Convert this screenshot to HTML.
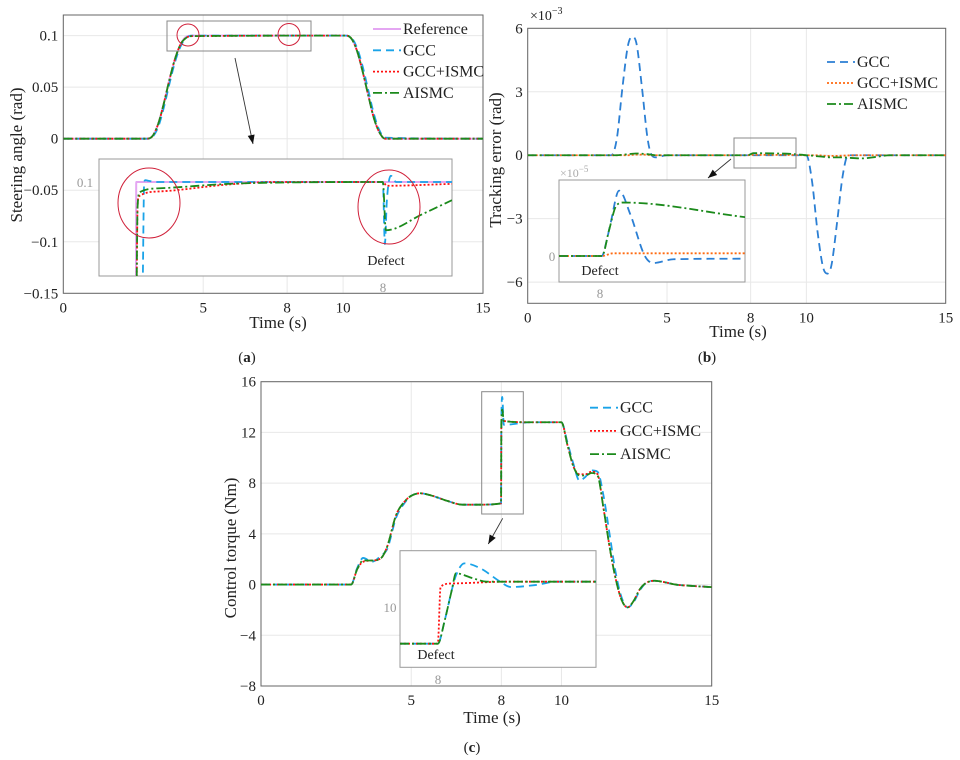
<!DOCTYPE html>
<html><head><meta charset="utf-8"><style>
html,body{margin:0;padding:0;background:#fff;}
svg{display:block;font-family:"Liberation Serif",serif;}
</style></head><body>
<svg id="fig" width="960" height="760" viewBox="0 0 960 760" xmlns="http://www.w3.org/2000/svg"></svg>
<script>
// ===== Panel (a) data: steering angle (rad) =====
const aT = [0,3.0,3.2,3.4,3.6,3.8,4.0,4.2,4.4,4.6,10.0,10.1,10.3,10.5,10.7,10.9,11.1,11.3,11.5,15];
const aRef = [0,0,0.003,0.015,0.035,0.058,0.078,0.092,0.099,0.1,0.1,0.1,0.097,0.085,0.065,0.042,0.02,0.006,0,0];
const aGCC = [0,0,0.002,0.012,0.031,0.054,0.075,0.090,0.098,0.1,0.1,0.1,0.098,0.088,0.070,0.047,0.024,0.008,0.001,0];
const aISMC = [0,0,0.003,0.015,0.035,0.058,0.078,0.092,0.098,0.0995,0.1,0.1,0.097,0.085,0.065,0.042,0.02,0.006,0,0];
const aAISMC = [0,0,0.003,0.015,0.035,0.058,0.078,0.092,0.098,0.0995,0.1,0.1,0.097,0.085,0.065,0.042,0.02,0.006,0,0];
const aYTicks = [0.1,0.05,0,-0.05,-0.1,-0.15];
const aYLabels = ["0.1","0.05","0","\u22120.05","\u22120.1","\u22120.15"];
const xTicks = [0,5,8,10,15];
const xLabels = ["0","5","8","10","15"];
// inset (a)
const aiRefT = [3.73,4.285,4.29,9.04];
const aiRefV = [0.08,0.08,0.1,0.1];
const aiGccT = [3.73,4.38,4.41,4.43,4.47,4.6,7.99,8.0,8.03,8.06,8.12,8.2,9.04];
const aiGccV = [0.08,0.08,0.1,0.1003,0.1002,0.1,0.1,0.1,0.0901,0.097,0.101,0.1,0.1];
const aiIsmcT = [3.73,4.29,4.31,4.33,4.65,5.67,6.4,7.99,8.0,8.06,9.04];
const aiIsmcV = [0.08,0.08,0.096,0.0977,0.0985,0.0996,0.1,0.1,0.1,0.0994,0.0997];
const aiAisT = [3.73,4.29,4.31,4.345,4.65,5.67,6.4,7.99,8.0,8.045,8.6,9.04];
const aiAisV = [0.08,0.08,0.096,0.0984,0.0990,0.0997,0.0999,0.1,0.1,0.0923,0.0949,0.0971];
// ===== Panel (b) data: tracking error (x1e-3 rad) =====
const bT = [0,3.0,3.2,3.4,3.6,3.75,3.9,4.1,4.3,4.45,4.6,5.0,7.9,8.1,8.5,9.5,10.0,10.2,10.4,10.6,10.75,10.9,11.1,11.3,11.5,12.0,12.5,13.0,15];
const bGCC = [0,0,0.8,3.2,5.2,5.6,5.3,3.2,0.8,0,-0.1,0,0,0,0,0,0,-1.2,-3.6,-5.3,-5.6,-5.2,-3.2,-1.0,0,0,0,0,0];
const bISMC = [0,0,0,0,0,0.02,0.03,0.03,0.02,0,0,0,0,0.02,0.02,0.01,0,0,0,-0.02,-0.03,-0.03,-0.03,-0.02,-0.01,0,0,0,0];
const bAISMC = [0,0,0,0.02,0.05,0.07,0.08,0.07,0.05,0.02,0,0,0,0.1,0.09,0.06,0,-0.02,-0.05,-0.07,-0.09,-0.1,-0.1,-0.1,-0.12,-0.15,-0.08,0,0];
const bYTicks = [6,3,0,-3,-6];
const bYLabels = ["6","3","0","\u22123","\u22126"];
// inset (b) in x1e-5
const biT = [7.7,8.0,8.03,8.06,8.12,8.2,8.3,8.36,8.5,9.0];
const biGCC = [0,0,0.25,0.6,1.21,0.76,0,-0.13,-0.06,-0.05];
const biIsmcT = [7.7,8.0,8.08,9.0];
const biIsmc = [0,0,0.05,0.05];
const biAisT = [7.7,8.0,8.05,8.1,8.15,9.0];
const biAis = [0,0,0.48,0.93,0.99,0.72];
// ===== Panel (c) data: control torque (Nm) =====
const cT = [0,3.0,3.2,3.4,3.7,4.0,4.2,4.5,4.8,5.0,5.3,5.7,6.2,6.7,7.2,7.99,8.0,8.03,8.08,9.0,10.0,10.2,10.4,10.6,10.8,11.0,11.2,11.4,11.6,11.8,12.0,12.2,12.4,12.6,12.8,13.1,13.4,13.8,14.3,15];
const cAISMC = [0,0,1.2,1.9,1.9,2.1,3.0,5.5,6.6,7.0,7.2,7.0,6.6,6.3,6.3,6.4,12.9,13.8,12.9,12.8,12.8,11.0,9.3,8.6,8.6,8.8,8.6,6.0,3.0,0.5,-1.2,-1.8,-1.3,-0.4,0.1,0.3,0.2,0,-0.1,-0.2];
const cGCC = [0,0,1.3,2.1,1.8,2.3,2.8,5.3,6.5,7.0,7.2,7.0,6.6,6.3,6.3,6.4,12.9,14.8,12.6,12.8,12.8,11.2,9.5,8.2,8.5,9.0,8.9,7.0,4.0,1.0,-1.0,-1.8,-1.4,-0.5,0.1,0.3,0.2,0,-0.1,-0.2];
const cISMC = [0,0,1.2,1.8,1.9,2.1,3.0,5.5,6.6,7.0,7.2,7.0,6.6,6.3,6.3,6.4,12.9,13.0,12.9,12.8,12.8,11.0,9.3,8.7,8.7,8.9,8.7,6.0,3.0,0.5,-1.2,-1.8,-1.3,-0.4,0.1,0.3,0.2,0,-0.1,-0.2];
const cYTicks = [16,12,8,4,0,-4,-8];
const cYLabels = ["16","12","8","4","0","\u22124","\u22128"];
// inset (c)
const ciT = [7.73,8.0,8.05,8.1,8.13,8.19,8.3,8.45,8.52,8.7,8.85,9.13];
const ciGCC = [6.21,6.21,8.7,11.86,13.4,14.67,14.18,12.7,12.18,12.39,12.74,12.74];
const ciAisT = [7.73,8.0,8.05,8.1,8.13,8.25,8.35,9.13];
const ciAis = [6.21,6.21,8.7,11.86,13.62,13.1,12.74,12.74];
const ciIsmcT = [7.73,8.0,8.02,8.1,8.5,9.13];
const ciIsmc = [6.21,6.21,12.2,12.55,12.74,12.74];

const NS="http://www.w3.org/2000/svg";
const svg=document.getElementById('fig');
function el(tag,attrs,parent){const e=document.createElementNS(NS,tag);for(const k in attrs)e.setAttribute(k,attrs[k]);(parent||svg).appendChild(e);return e;}
function scale(d0,d1,r0,r1){return v=>r0+(v-d0)*(r1-r0)/(d1-d0);}
function monoPath(px,py){
  const n=px.length;if(n<2)return '';
  const d=[],m=[];
  for(let i=0;i<n-1;i++){const dx=px[i+1]-px[i];d.push(dx===0?0:(py[i+1]-py[i])/dx);}
  m[0]=d[0];m[n-1]=d[n-2];
  for(let i=1;i<n-1;i++){m[i]=(d[i-1]*d[i]<=0)?0:(d[i-1]+d[i])/2;}
  for(let i=0;i<n-1;i++){if(d[i]===0){m[i]=0;m[i+1]=0;continue;}const a=m[i]/d[i],b=m[i+1]/d[i],s=a*a+b*b;if(s>9){const t=3/Math.sqrt(s);m[i]=t*a*d[i];m[i+1]=t*b*d[i];}}
  let p='M'+px[0].toFixed(2)+','+py[0].toFixed(2);
  for(let i=0;i<n-1;i++){const h=(px[i+1]-px[i])/3;
    p+=' C'+(px[i]+h).toFixed(2)+','+(py[i]+m[i]*h).toFixed(2)+' '+(px[i+1]-h).toFixed(2)+','+(py[i+1]-m[i+1]*h).toFixed(2)+' '+px[i+1].toFixed(2)+','+py[i+1].toFixed(2);}
  return p;
}
function series(g,xs,ys,sx,sy,style,name){
  const p=el('path',{d:monoPath(xs.map(sx),ys.map(sy)),fill:'none',stroke:style.c,'stroke-width':style.w||1.8,'stroke-dasharray':style.dash||'none'},g);
  
  
  return p;
}
function text(x,y,s,attrs,parent,name){const t=el('text',Object.assign({x:x,y:y,'font-size':15,fill:'#222'},attrs||{}),parent);t.textContent=s;
  
  
  return t;}
let clipId=0;
function clip(x,y,w,h){const id='cp'+(clipId++);const c=el('clipPath',{id:id});el('rect',{x:x,y:y,width:w,height:h},c);return 'url(#'+id+')';}
const S={ref:{c:'#e4a6f2',w:2},gcc:{c:'#1aa3e8',dash:'8,5'},ismc:{c:'#ff1010',dash:'2,2'},ais:{c:'#1b8a1b',dash:'9,3,2,3'}};
const Sb={gcc:{c:'#2b7fd4',dash:'8,5'},ismc:{c:'#ff6a10',dash:'2,2'},ais:{c:'#1b8a1b',dash:'9,3,2,3'}};

function axes(box,xd,yd,yt,yl,name){
  const g=el('g',{});
  
  
  const sx=scale(xd[0],xd[1],box.x0,box.x1),sy=scale(yd[0],yd[1],box.y1,box.y0);
  xTicks.forEach((t,i)=>{const x=sx(t);el('line',{x1:x,x2:x,y1:box.y0,y2:box.y1,stroke:'#e8e8e8','stroke-width':1},g);
    text(x,box.y1+19,xLabels[i],{'text-anchor':'middle'},g,'x-tick-label');});
  yt.forEach((t,i)=>{const y=sy(t);el('line',{x1:box.x0,x2:box.x1,y1:y,y2:y,stroke:'#e8e8e8','stroke-width':1},g);
    text(box.x0-5,y+5,yl[i],{'text-anchor':'end'},g,'y-tick-label');});
  el('rect',{x:box.x0,y:box.y0,width:box.x1-box.x0,height:box.y1-box.y0,fill:'none',stroke:'#666','stroke-width':1},g);
  return {g,sx,sy,cp:clip(box.x0,box.y0,box.x1-box.x0,box.y1-box.y0)};
}
function legend(x,y0,dy,items,parent){
  items.forEach((it,i)=>{const y=y0+i*dy;
    const l=el('line',{x1:x,x2:x+28,y1:y,y2:y,stroke:it.s.c,'stroke-width':it.s.w||1.8,'stroke-dasharray':it.s.dash||'none'},parent);
    
    
    text(x+30,y+5,it.n,{'font-size':16},parent,'legend-entry');});
}
function arrow(x1,y1,x2,y2,parent){
  el('line',{x1:x1,y1:y1,x2:x2,y2:y2,stroke:'#333','stroke-width':0.9},parent);
  const a=Math.atan2(y2-y1,x2-x1),L=9,W=3.5;
  const p1=[x2-L*Math.cos(a)+W*Math.sin(a),y2-L*Math.sin(a)-W*Math.cos(a)],p2=[x2-L*Math.cos(a)-W*Math.sin(a),y2-L*Math.sin(a)+W*Math.cos(a)];
  const h=el('polygon',{points:x2+','+y2+' '+p1.join(',')+' '+p2.join(','),fill:'#111'},parent);
  
  
}

// ================= Panel A =================
const A=axes({x0:63.3,x1:483,y0:15,y1:293.3},[0,15],[-0.15,0.12],aYTicks,aYLabels,'panel-a');
{const g=el('g',{'clip-path':A.cp},A.g);
 series(g,aT,aRef,A.sx,A.sy,S.ref,'reference-line');
 series(g,aT,aGCC,A.sx,A.sy,S.gcc,'gcc-line');
 series(g,aT,aISMC,A.sx,A.sy,S.ismc,'gcc-ismc-line');
 series(g,aT,aAISMC,A.sx,A.sy,S.ais,'aismc-line');}
el('rect',{x:167,y:21,width:144,height:30,fill:'none',stroke:'#888','stroke-width':1},A.g);
el('circle',{cx:188,cy:35,r:11,fill:'none',stroke:'#d0213a','stroke-width':1},A.g);
el('circle',{cx:289,cy:34.5,r:11,fill:'none',stroke:'#d0213a','stroke-width':1},A.g);
arrow(235,58,253,144,A.g);
legend(373,29,21.3,[{n:'Reference',s:S.ref},{n:'GCC',s:S.gcc},{n:'GCC+ISMC',s:S.ismc},{n:'AISMC',s:S.ais}],A.g);
text(0,0,'Steering angle (rad)',{'font-size':17,'text-anchor':'middle',transform:'translate(22,155) rotate(-90)'},A.g,'y-axis-title-a');
text(278,328,'Time (s)',{'font-size':17,'text-anchor':'middle'},A.g,'x-axis-title-a');
{const ig=el('g',{});
 el('rect',{x:99,y:159,width:353,height:117,fill:'#fff',stroke:'#999','stroke-width':1},ig);
 const sx=scale(3.73,9.04,99,452),sy=scale(0.085,0.10367,276,159);
 const g=el('g',{'clip-path':clip(99,159,353,117)},ig);
 series(g,aiRefT,aiRefV,sx,sy,S.ref,'inset-reference-line');
 series(g,aiGccT,aiGccV,sx,sy,S.gcc,'inset-gcc-line');
 series(g,aiIsmcT,aiIsmcV,sx,sy,S.ismc,'inset-gcc-ismc-line');
 series(g,aiAisT,aiAisV,sx,sy,S.ais,'inset-aismc-line');
 text(85,187,'0.1',{'font-size':13,fill:'#999','text-anchor':'middle'},ig,'inset-y-label');
 text(383,292,'8',{'font-size':13,fill:'#999','text-anchor':'middle'},ig,'inset-x-label');
 text(386,265,'Defect',{'font-size':14,'text-anchor':'middle'},ig,'defect-label');
 el('ellipse',{cx:149,cy:203,rx:31,ry:35,fill:'none',stroke:'#d0213a','stroke-width':1},ig);
 el('ellipse',{cx:389,cy:207,rx:31,ry:37,fill:'none',stroke:'#d0213a','stroke-width':1},ig);}

// ================= Panel B =================
const B=axes({x0:527.7,x1:945.7,y0:28.3,y1:303.3},[0,15],[-7,6],bYTicks,bYLabels,'panel-b');
{const g=el('g',{'clip-path':B.cp},B.g);
 series(g,bT,bGCC,B.sx,B.sy,Sb.gcc,'gcc-line');
 series(g,bT,bISMC,B.sx,B.sy,Sb.ismc,'gcc-ismc-line');
 series(g,bT,bAISMC,B.sx,B.sy,Sb.ais,'aismc-line');}
{const t=text(530,20,'\u00d710',{'font-size':14},B.g,'y-exponent-b');const s=el('tspan',{dy:-6,'font-size':10},t);s.textContent='\u22123';}
el('rect',{x:734,y:138,width:62,height:30,fill:'none',stroke:'#888','stroke-width':1},B.g);
arrow(731,159,708,178,B.g);
legend(827,62,21,[{n:'GCC',s:Sb.gcc},{n:'GCC+ISMC',s:Sb.ismc},{n:'AISMC',s:Sb.ais}],B.g);
text(0,0,'Tracking error (rad)',{'font-size':17,'text-anchor':'middle',transform:'translate(501,160) rotate(-90)'},B.g,'y-axis-title-b');
text(738,337,'Time (s)',{'font-size':17,'text-anchor':'middle'},B.g,'x-axis-title-b');
{const ig=el('g',{});
 el('rect',{x:559,y:180,width:186,height:102,fill:'#fff',stroke:'#999','stroke-width':1},ig);
 const sx=scale(7.7,9.0,559,745),sy=scale(0,1,256,202);
 const g=el('g',{'clip-path':clip(559,180,186,102)},ig);
 series(g,biT,biGCC,sx,sy,Sb.gcc,'inset-gcc-line');
 series(g,biIsmcT,biIsmc,sx,sy,Sb.ismc,'inset-gcc-ismc-line');
 series(g,biAisT,biAis,sx,sy,Sb.ais,'inset-aismc-line');
 const t=text(560,177,'\u00d710',{'font-size':12,fill:'#aaa'},ig,'inset-exponent');const s=el('tspan',{dy:-5,'font-size':9},t);s.textContent='\u22125';
 text(552,261,'0',{'font-size':13,fill:'#999','text-anchor':'middle'},ig,'inset-y-label');
 text(600,298,'8',{'font-size':13,fill:'#999','text-anchor':'middle'},ig,'inset-x-label');
 text(600,275,'Defect',{'font-size':14,'text-anchor':'middle'},ig,'defect-label');}

// ================= Panel C =================
const C=axes({x0:261,x1:711.7,y0:381.7,y1:686},[0,15],[-8,16],cYTicks,cYLabels,'panel-c');
{const g=el('g',{'clip-path':C.cp},C.g);
 series(g,cT,cGCC,C.sx,C.sy,S.gcc,'gcc-line');
 series(g,cT,cISMC,C.sx,C.sy,S.ismc,'gcc-ismc-line');
 series(g,cT,cAISMC,C.sx,C.sy,S.ais,'aismc-line');}
el('rect',{x:481.7,y:391.7,width:41.6,height:122.3,fill:'none',stroke:'#888','stroke-width':1},C.g);
arrow(502.7,518.3,488.3,544,C.g);
legend(590,407.7,23.2,[{n:'GCC',s:S.gcc},{n:'GCC+ISMC',s:S.ismc},{n:'AISMC',s:S.ais}],C.g);
text(0,0,'Control torque (Nm)',{'font-size':17,'text-anchor':'middle',transform:'translate(236,548) rotate(-90)'},C.g,'y-axis-title-c');
text(492,723,'Time (s)',{'font-size':17,'text-anchor':'middle'},C.g,'x-axis-title-c');
{const ig=el('g',{});
 el('rect',{x:400,y:550.7,width:196,height:116.6,fill:'#fff',stroke:'#999','stroke-width':1},ig);
 const sx=scale(7.73,9.13,400,596),sy=scale(10,11,607.7,598.2);
 const g=el('g',{'clip-path':clip(400,550.7,196,116.6)},ig);
 series(g,ciT,ciGCC,sx,sy,S.gcc,'inset-gcc-line');
 series(g,ciIsmcT,ciIsmc,sx,sy,S.ismc,'inset-gcc-ismc-line');
 series(g,ciAisT,ciAis,sx,sy,S.ais,'inset-aismc-line');
 text(390,612,'10',{'font-size':13,fill:'#999','text-anchor':'middle'},ig,'inset-y-label');
 text(438,684,'8',{'font-size':13,fill:'#999','text-anchor':'middle'},ig,'inset-x-label');
 text(436,659,'Defect',{'font-size':14,'text-anchor':'middle'},ig,'defect-label');}

function cap(x,y,l,name){const t=text(x,y,'(',{'font-size':15,'text-anchor':'middle'},svg,name);
 const b=el('tspan',{'font-weight':'bold'},t);b.textContent=l;const e=el('tspan',{},t);e.textContent=')';}
cap(247,362,'a','caption-a');
cap(707,362,'b','caption-b');
cap(472,752,'c','caption-c');
</script>
</body></html>
